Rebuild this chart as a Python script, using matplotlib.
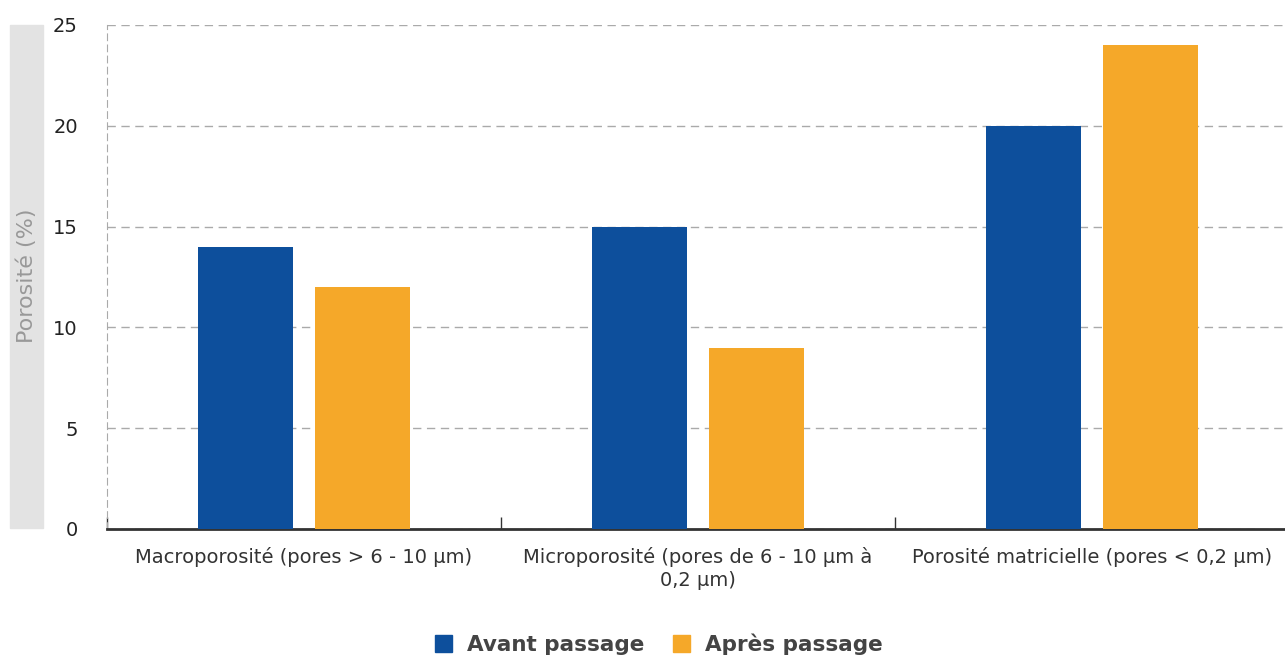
import numpy as np
import matplotlib.pyplot as plt
from matplotlib.patches import Rectangle, Patch

plt.rcParams["font.family"] = ["DejaVu Sans"]

categories = ["Macroporosité (pores > 6 - 10 µm)",
              "Microporosité (pores de 6 - 10 µm à\n0,2 µm)",
              "Porosité matricielle (pores < 0,2 µm)"]
avant = [14, 15, 20]
apres = [12, 9, 24]
series_names = ["Avant passage", "Après passage"]
colors = ["#0d4f9c", "#f5a829"]

fig = plt.figure(figsize=(12.85, 6.57), dpi=100)
ax = fig.add_axes([107 / 1285, 1 - 529 / 657, 1182 / 1285, 504 / 657])

x = np.arange(len(categories))
w = 0.24
ax.bar(x - 0.149, avant, w, color=colors[0], zorder=3)
ax.bar(x + 0.149, apres, w, color=colors[1], zorder=3)

ax.set_xlim(-0.5, 2.5)
ax.set_ylim(0, 25)
ax.set_yticks([0, 5, 10, 15, 20, 25])
ax.yaxis.grid(True, linestyle=(0, (6, 4)), color="#aaaaaa", linewidth=1, zorder=0)

# category boundaries as ticks, labels in the middle
ax.set_xticks([-0.5, 0.5, 1.5], minor=False)
ax.set_xticklabels([])
ax.set_xticks(x, minor=True)
ax.set_xticklabels(categories, minor=True, fontsize=14, color="#333333",
                   linespacing=1.25)
ax.tick_params(axis="x", which="minor", length=0, pad=13)
ax.tick_params(axis="x", which="major", length=9, width=1, color="#333333", direction="in")
ax.tick_params(axis="y", length=0, labelsize=14, colors="#222222", pad=21)

for s in ["top", "right"]:
    ax.spines[s].set_visible(False)
ax.spines["left"].set_linestyle((0, (6, 4)))
ax.spines["left"].set_color("#aaaaaa")
ax.spines["bottom"].set_color("#333333")
ax.spines["bottom"].set_linewidth(2)

# grey band behind the y label
fig.patches.append(Rectangle((10 / 1285, 1 - 528 / 657), 33 / 1285, 503 / 657,
                             transform=fig.transFigure, color="#e3e3e3", zorder=0))
fig.text(27 / 1285, 1 - 276 / 657, "Porosité (%)", rotation=90, ha="center",
         va="center", fontsize=16, color="#999999")

handles = [Patch(color=c) for c in colors]
fig.legend(handles, series_names, loc="center", bbox_to_anchor=(659 / 1285, 1 - 644 / 657),
           ncol=2, frameon=False, handlelength=0.8, handleheight=0.8,
           columnspacing=1.3, handletextpad=0.7,
           prop={"weight": "bold", "size": 15.5})
for t in fig.legends[0].get_texts():
    t.set_color("#444444")

fig.savefig("out.png")
